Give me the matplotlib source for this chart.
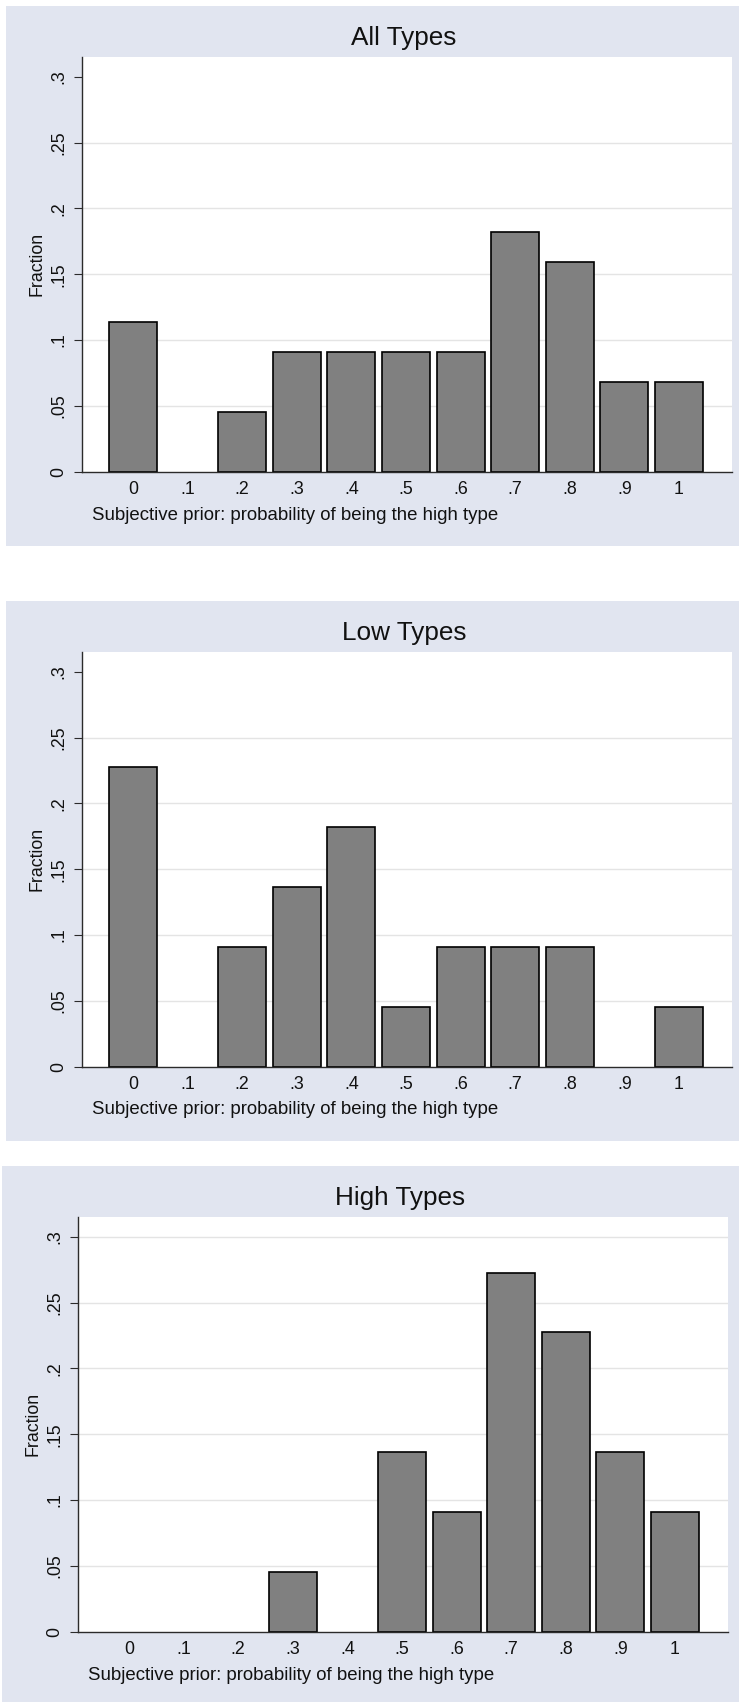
import numpy as np
import matplotlib
matplotlib.use("Agg")
import matplotlib.pyplot as plt
from matplotlib.patches import Rectangle

plt.rcParams['font.family'] = ['Liberation Sans', 'DejaVu Sans']

# datos (fraccion por valor del prior)
priors = [0, .1, .2, .3, .4, .5, .6, .7, .8, .9, 1]
prior_labels = ['0', '.1', '.2', '.3', '.4', '.5', '.6', '.7', '.8', '.9', '1']
all_types = [0.1136, 0, 0.0455, 0.0909, 0.0909, 0.0909, 0.0909, 0.1818, 0.1591, 0.0682, 0.0682]
low_types = [0.2273, 0, 0.0909, 0.1364, 0.1818, 0.0455, 0.0909, 0.0909, 0.0909, 0, 0.0455]
high_types = [0, 0, 0, 0.0455, 0, 0.1364, 0.0909, 0.2727, 0.2273, 0.1364, 0.0909]
y_ticks = [0, .05, .1, .15, .2, .25, .3]
y_labels = ['0', '.05', '.1', '.15', '.2', '.25', '.3']
titles = ['All Types', 'Low Types', 'High Types']
xlabel = 'Subjective prior: probability of being the high type'

W, H = 739, 1702
BG = '#e1e5f0'
AXC = '#2b2b2b'

fig = plt.figure(figsize=(W / 100, H / 100), dpi=100)
fig.patch.set_facecolor('white')

# (top del fondo en px, desplazamiento horizontal, grid en .3)
paneles = [(6, 0, False), (601, 0, False), (1166, -4, True)]
series = [all_types, low_types, high_types]


def dibujar_panel(top, dx, grid_top, valores, titulo):
    # fondo del panel
    fig.patches.append(Rectangle(((6 + dx) / W, 1 - (top + 540) / H), (W - 6 - dx) / W + 0.01, 540 / H,
                                 transform=fig.transFigure, facecolor=BG, edgecolor='none', zorder=-5))
    left, right = 82 + dx, 732 + dx
    ptop, pbot = top + 51, top + 465.7
    ax = fig.add_axes([left / W, 1 - pbot / H, (right - left) / W, (pbot - ptop) / H])
    ax.set_zorder(2)
    ax.set_facecolor('white')

    x = np.array(priors)
    v = np.array(valores)
    m = v > 0
    ax.bar(x[m], v[m], width=0.088, color='#808080', edgecolor='black', linewidth=1.2, zorder=3)

    ax.set_xlim(-0.0934, 1.097)
    ax.set_ylim(0, 0.315)

    # lineas de cuadricula
    gl = y_ticks[1:] if grid_top else y_ticks[1:-1]
    for g in gl:
        ax.axhline(g, color='#e4e4e4', linewidth=1.0, zorder=1)

    ax.set_xticks(priors)
    ax.set_xticklabels(prior_labels, fontsize=12.8)
    ax.set_yticks(y_ticks)
    ax.set_yticklabels(y_labels, fontsize=12.8, rotation=90, va='center')
    ax.tick_params(axis='x', length=0, pad=6.5, colors='#111111')
    ax.tick_params(axis='y', length=5.8, width=0.8, pad=5, color=AXC, labelcolor='#111111')

    for s in ['top', 'right']:
        ax.spines[s].set_visible(False)
    for s in ['left', 'bottom']:
        ax.spines[s].set_color(AXC)
        ax.spines[s].set_linewidth(1.0)
        ax.spines[s].set_zorder(4)

    ax.text(-45 / 650, 0.5, 'Fraction', transform=ax.transAxes, rotation=90,
            ha='center', va='center', fontsize=12.8, color='#111111')
    ax.text(10 / 650, -43.3 / 414.7, xlabel, transform=ax.transAxes,
            ha='left', va='center', fontsize=13.4, color='#111111')
    fig.text((404 + dx) / W, 1 - (top + 32) / H, titulo, ha='center', va='center',
             fontsize=18.8, color='#111111')


for (top, dx, gt), vals, t in zip(paneles, series, titles):
    dibujar_panel(top, dx, gt, vals, t)

fig.savefig('out.png', dpi=100, facecolor='white')
